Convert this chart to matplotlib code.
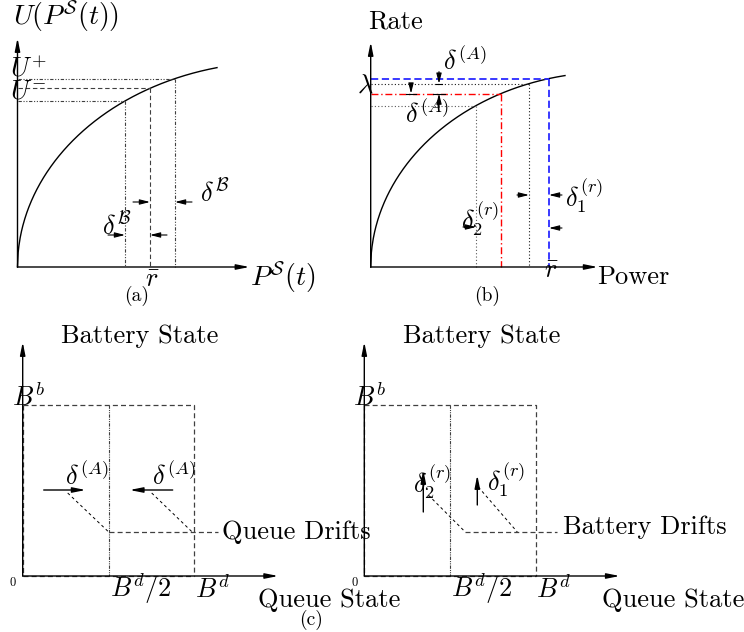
import numpy as np
import matplotlib
matplotlib.use("Agg")
import matplotlib.pyplot as plt

plt.rcParams['mathtext.fontset'] = 'cm'
plt.rcParams['font.family'] = ['cmr10', 'DejaVu Serif']

# ---------------- data (diagram values, pixel units) ----------------
# panel (a): utility curve
a_origin = (17.5, 267.0)
a_curve_w, a_curve_h = 260.0, 205.0
a_curve_end = 199.5
a_marks = [107.5, 132.5, 157.5]          # U-, r-bar, U+ abscissae
a_axis_len = (232.0, 229.0)              # x-axis, y-axis lengths

# panel (b): rate-power curve
b_origin = (370.7, 267.0)
b_curve_w, b_curve_h = 240.0, 195.0
b_curve_end = 194.3
b_marks = [105.3, 130.3, 158.3, 178.3]   # dotted, red, dotted, blue
b_axis_len = (227.0, 225.0)

# panel (c): state-space boxes (left: queue drifts, right: battery drifts)
c_origins = [(22.7, 576.0), (364.3, 576.0)]
c_axis_len = (255.5, 234.0)
c_box = (171.5, 171.0)                   # B^d width, B^b height
c_half = 86.0                            # B^d / 2
c_drift_y = 44.0                         # height of drift line

labels_a = [r'$U(P^{\mathcal{S}}(t))$', r'$U^{+}$', r'$U^{-}$', r'$\delta^{\mathcal{B}}$',
            r'$\bar{r}$', r'$P^{\mathcal{S}}(t)$', '(a)']
labels_b = ['Rate', r'$\lambda$', r'$\delta^{(A)}$', r'$\delta_1^{(r)}$', r'$\delta_2^{(r)}$',
            r'$\bar{r}$', 'Power', '(b)']
labels_c = ['Battery State', r'$B^b$', '0', r'$B^d/2$', r'$B^d$', 'Queue State',
            'Queue Drifts', 'Battery Drifts', '(c)']

# ---------------- drawing ----------------
fig = plt.figure(figsize=(7.44, 6.32), dpi=100)
ax = fig.add_axes([0, 0, 1, 1])
ax.set_xlim(0, 744)
ax.set_ylim(632, 0)
ax.axis('off')

LC = '0.25'
DASH = (0, (4, 2.5))
DDOT = (0, (3, 1.5, 1, 1.5, 1, 1.5))
DOT = (0, (1, 2))
FS = 19


def arrow(x0, y0, x1, y1, lw=0.8, hl=0.55, hw=0.14):
    ax.annotate('', xy=(x1, y1), xytext=(x0, y0),
                arrowprops=dict(arrowstyle=f'-|>,head_length={hl},head_width={hw}',
                                lw=lw, color='k', shrinkA=0, shrinkB=0,
                                mutation_scale=11))


def ell(x, w, h):
    return h * np.sqrt(1 - (1 - x / w) ** 2)


def txt(x, y, s, ha='left', fs=FS, **kw):
    ax.text(x, y, s, ha=ha, va='center', fontsize=fs, **kw)


# ---- panel (a) ----
ox, oy = a_origin
arrow(ox, oy, ox + a_axis_len[0], oy, lw=1.0, hl=0.7)
arrow(ox, oy, ox, oy - a_axis_len[1], lw=1.0, hl=0.7)
xs = np.linspace(0, a_curve_end, 300)
ax.plot(ox + xs, oy - ell(xs, a_curve_w, a_curve_h), color='k', lw=1.0)
styles_a = [DDOT, DASH, DDOT]
for m, ls in zip(a_marks, styles_a):
    h = ell(m, a_curve_w, a_curve_h)
    ax.plot([ox, ox + m], [oy - h, oy - h], color=LC, lw=0.8, ls=ls)
    ax.plot([ox + m, ox + m], [oy - h, oy], color=LC, lw=0.8, ls=ls)
m1, m2, m3 = [ox + m for m in a_marks]
arrow(m2 - 17, 202, m2, 202)
arrow(m3 + 17, 202, m3, 202)
arrow(m1 - 17, 235, m1, 235)
arrow(m2 + 17, 235, m2, 235)
txt(13, 17, labels_a[0], fs=20)
txt(10, 69, labels_a[1])
txt(10, 92, labels_a[2])
txt(200, 192, labels_a[3])
txt(102, 225, labels_a[3])
txt(m2 + 2, 280, labels_a[4], ha='center')
txt(250, 278, labels_a[5], fs=20)
txt(137, 296, labels_a[6], ha='center', fs=14)

# ---- panel (b) ----
ox, oy = b_origin
arrow(ox, oy, ox + b_axis_len[0], oy, lw=1.0, hl=0.7)
arrow(ox, oy, ox, oy - b_axis_len[1], lw=1.0, hl=0.7)
xs = np.linspace(0, b_curve_end, 300)
ax.plot(ox + xs, oy - ell(xs, b_curve_w, b_curve_h), color='k', lw=1.0)
styles_b = [(DOT, '0.35', 0.8), ((0, (5, 2, 1, 2)), '#ff0000', 1.0),
            (DOT, '0.1', 0.8), ((0, (4, 2)), '#2a2aff', 1.3)]
hb = []
for m, (ls, c, lw) in zip(b_marks, styles_b):
    h = ell(m, b_curve_w, b_curve_h)
    hb.append(oy - h)
    ax.plot([ox, ox + m], [oy - h, oy - h], color=c, lw=lw, ls=ls)
    ax.plot([ox + m, ox + m], [oy - h, oy], color=c, lw=lw, ls=ls)
y_dot_lo, y_red, y_dot_hi, y_blue = hb
bx = [ox + m for m in b_marks]
arrow(439, y_dot_hi - 12, 439, y_dot_hi)
ax.plot([436, 442], [y_dot_hi, y_dot_hi], color='k', lw=0.8)
arrow(439, y_dot_lo + 2, 439, y_red)
ax.plot([433, 445], [y_red, y_red], color='k', lw=0.8)
arrow(411, y_dot_hi, 411, y_red)
ax.plot([406, 416], [y_red, y_red], color='k', lw=0.8)
arrow(bx[2] - 12, 195, bx[2], 195)
arrow(bx[3] + 13, 195, bx[3], 195)
arrow(bx[3] + 13, 228, bx[3], 228)
arrow(bx[0] - 13, 227, bx[0], 227)
txt(368, 22, labels_b[0])
txt(365, 86, labels_b[1], ha='center')
txt(443, 61, labels_b[2])
txt(405, 114, labels_b[2])
txt(565, 196, labels_b[3])
txt(461, 219, labels_b[4])
txt(bx[3] + 2, 271, labels_b[5], ha='center')
txt(597, 277, labels_b[6])
txt(487, 296, labels_b[7], ha='center', fs=14)

# ---- panel (c) ----
for k, (ox, oy) in enumerate(c_origins):
    W, H = c_box
    arrow(ox, oy, ox + c_axis_len[0], oy, lw=1.0, hl=0.7)
    arrow(ox, oy, ox, oy - c_axis_len[1], lw=1.0, hl=0.7)
    ax.plot([ox, ox + W, ox + W], [oy - H, oy - H, oy], color=LC, lw=0.9, ls=DASH)
    ax.plot([ox, ox], [oy - H, oy], color=LC, lw=0.9, ls=DASH)
    ax.plot([ox, ox + W], [oy, oy], color=LC, lw=0.9, ls=DASH)
    ax.plot([ox + c_half, ox + c_half], [oy - H, oy], color=LC, lw=0.8,
            ls=(0, (3, 1, 1, 1, 1, 1)))
    txt(ox + 117, 336, labels_c[0], ha='center')
    txt(ox - 11, 397, labels_c[1])
    txt(ox - 10, 583, labels_c[2], ha='center', fs=9)
    txt(ox + 87, 589, labels_c[3])
    txt(ox + 172, 589, labels_c[4])
    yd = oy - c_drift_y
    if k == 0:
        ax.plot([ox + c_half, ox + 195], [yd, yd], color=LC, lw=0.9, ls=DASH)
        ax.plot([ox + 45, ox + c_half], [493, yd], color='k', lw=0.7, ls=(0, (3, 3)))
        ax.plot([ox + 129, ox + W - 2], [493, yd], color='k', lw=0.7, ls=(0, (3, 3)))
        arrow(ox + 21, 490, ox + 63, 490, lw=1.0, hl=0.7)
        arrow(ox + 150, 490, ox + 107, 490, lw=1.0, hl=0.7)
        txt(ox + 42, 476, r'$\delta^{(A)}$')
        txt(ox + 129, 476, r'$\delta^{(A)}$')
        txt(ox + 199, 532, labels_c[6])
        txt(ox + 235, 600, labels_c[5])
        txt(311, 620, labels_c[8], ha='center', fs=14)
    else:
        ax.plot([ox + 101, ox + 193], [yd, yd], color=LC, lw=0.9, ls=DASH)
        ax.plot([ox + 64, ox + 101], [495, yd], color='k', lw=0.7, ls=(0, (3, 3)))
        ax.plot([ox + 114, ox + 153], [487, yd], color='k', lw=0.7, ls=(0, (3, 3)))
        arrow(ox + 59, 512, ox + 59, 470, lw=1.0, hl=0.7)
        arrow(ox + 113, 505, ox + 113, 475, lw=1.0, hl=0.7)
        txt(ox + 49, 482, r'$\delta_2^{(r)}$')
        txt(ox + 123, 480, r'$\delta_1^{(r)}$')
        txt(ox + 199, 527, labels_c[7])
        txt(ox + 238, 600, labels_c[5])

fig.savefig('out.png', dpi=100)
